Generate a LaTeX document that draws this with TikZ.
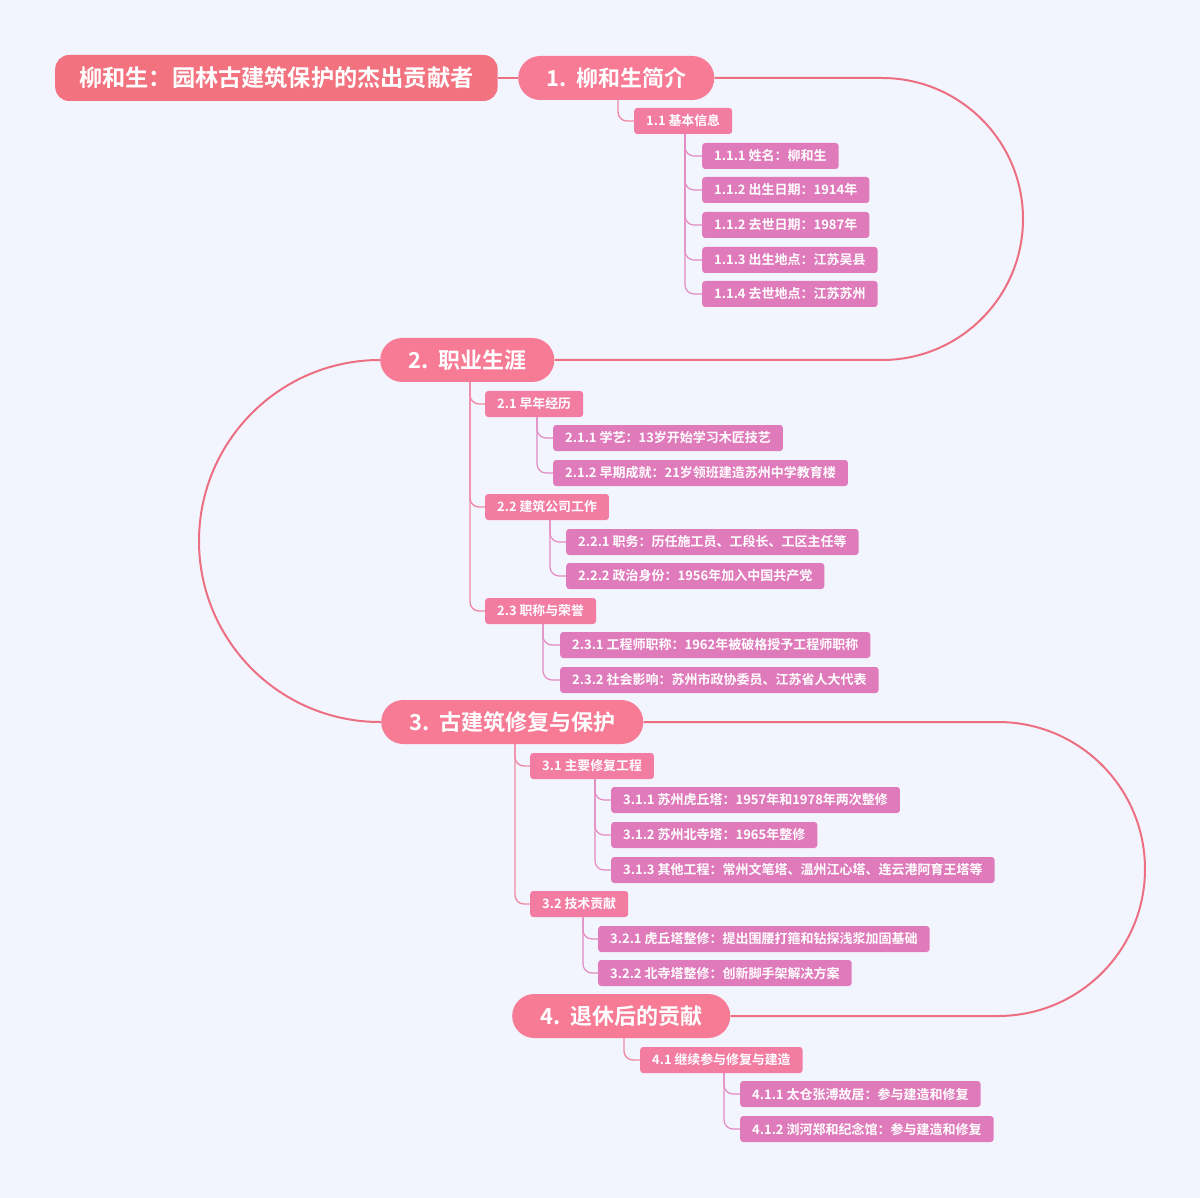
\documentclass[tikz,border=0pt]{standalone}
\usepackage{fontspec}
\newfontfamily\cjk{Noto Sans CJK SC Bold}
\begin{document}
\begin{tikzpicture}[x=1pt,y=-1pt,
  every node/.style={font=\cjk,text=white,anchor=west,inner sep=0pt},
  root/.style={fill=rootc,rounded corners=14pt,minimum height=46pt,inner xsep=24pt,font=\cjk\fontsize{23.2}{23.2}\selectfont},
  lone/.style={fill=lonec,rounded corners=22pt,minimum height=44pt,inner xsep=28pt,font=\cjk\fontsize{22}{22}\selectfont},
  ltwo/.style={fill=ltwoc,rounded corners=3pt,minimum height=26pt,inner xsep=12pt,font=\cjk\fontsize{12.9}{12.9}\selectfont},
  lthree/.style={fill=lthreec,rounded corners=3pt,minimum height=26pt,inner xsep=12pt,font=\cjk\fontsize{13}{13}\selectfont},
  mainc/.style={draw=linec,line width=2pt},
  ctwo/.style={draw=ctwoc,line width=1.4pt,rounded corners=9pt},
  cthree/.style={draw=cthreec,line width=1.2pt,rounded corners=9pt}]
\definecolor{bg}{HTML}{F3F5FE}
\definecolor{rootc}{HTML}{F2737F}
\definecolor{lonec}{HTML}{F77B94}
\definecolor{ltwoc}{HTML}{F27CA2}
\definecolor{lthreec}{HTML}{E07BBB}
\definecolor{linec}{HTML}{EC6F82}
\definecolor{ctwoc}{HTML}{F08AA6}
\definecolor{cthreec}{HTML}{E38BC2}
\fill[bg] (0,0) rectangle (1200,1198);
\useasboundingbox (0,0) rectangle (1200,1198);

\node[root] (r) at (55,78) {柳和生：园林古建筑保护的杰出贡献者};
\node[lone] (n1) at (518,78) {1.\ \ 柳和生简介};
\node[lone] (n2) at (380,360) {2.\ \ 职业生涯};
\node[lone] (n3) at (381,722) {3.\ \ 古建筑修复与保护};
\node[lone] (n4) at (512,1016) {4.\ \ 退休后的贡献};

\draw[mainc] (r.east) -- (n1.west);
\draw[mainc] (n1.east) -- (882,78) arc(-90:90:141) -- (n2.east);
\draw[mainc] (n2.west) -- (380,360) arc(-90:-270:181) -- (n3.west);
\draw[mainc] (n3.east) -- (998,722) arc(-90:90:147) -- (n4.east);

\node[ltwo] (a1) at (634,121) {1.1 基本信息};
\node[lthree] (a11) at (702,156) {1.1.1 姓名：柳和生};
\node[lthree] (a12) at (702,190) {1.1.2 出生日期：1914年};
\node[lthree] (a13) at (702,225) {1.1.2 去世日期：1987年};
\node[lthree] (a14) at (702,260) {1.1.3 出生地点：江苏吴县};
\node[lthree] (a15) at (702,294) {1.1.4 去世地点：江苏苏州};

\node[ltwo] (b1) at (485,404) {2.1 早年经历};
\node[lthree] (b11) at (553,438) {2.1.1 学艺：13岁开始学习木匠技艺};
\node[lthree] (b12) at (553,473) {2.1.2 早期成就：21岁领班建造苏州中学教育楼};
\node[ltwo] (b2) at (485,507) {2.2 建筑公司工作};
\node[lthree] (b21) at (566,542) {2.2.1 职务：历任施工员、工段长、工区主任等};
\node[lthree] (b22) at (566,576) {2.2.2 政治身份：1956年加入中国共产党};
\node[ltwo] (b3) at (485,611) {2.3 职称与荣誉};
\node[lthree] (b31) at (560,645) {2.3.1 工程师职称：1962年被破格授予工程师职称};
\node[lthree] (b32) at (560,680) {2.3.2 社会影响：苏州市政协委员、江苏省人大代表};

\node[ltwo] (c1) at (530,766) {3.1 主要修复工程};
\node[lthree] (c11) at (611,800) {3.1.1 苏州虎丘塔：1957年和1978年两次整修};
\node[lthree] (c12) at (611,835) {3.1.2 苏州北寺塔：1965年整修};
\node[lthree] (c13) at (611,870) {3.1.3 其他工程：常州文笔塔、温州江心塔、连云港阿育王塔等};
\node[ltwo] (c2) at (530,904) {3.2 技术贡献};
\node[lthree] (c21) at (598,939) {3.2.1 虎丘塔整修：提出围腰打箍和钻探浅浆加固基础};
\node[lthree] (c22) at (598,973) {3.2.2 北寺塔整修：创新脚手架解决方案};

\node[ltwo] (d1) at (640,1060) {4.1 继续参与修复与建造};
\node[lthree] (d11) at (740,1094) {4.1.1 太仓张溥故居：参与建造和修复};
\node[lthree] (d12) at (740,1129) {4.1.2 浏河郑和纪念馆：参与建造和修复};

\draw[ctwo] ([xshift=100pt]n1.south west) |- (a1.west);
\foreach \c in {a11,a12,a13,a14,a15}{\draw[cthree] ([xshift=51pt]a1.south west) |- (\c.west);}
\foreach \c in {b1,b2,b3}{\draw[ctwo] ([xshift=90pt]n2.south west) |- (\c.west);}
\foreach \c in {b11,b12}{\draw[cthree] ([xshift=52pt]b1.south west) |- (\c.west);}
\foreach \c in {b21,b22}{\draw[cthree] ([xshift=65pt]b2.south west) |- (\c.west);}
\foreach \c in {b31,b32}{\draw[cthree] ([xshift=58pt]b3.south west) |- (\c.west);}
\foreach \c in {c1,c2}{\draw[ctwo] ([xshift=134pt]n3.south west) |- (\c.west);}
\foreach \c in {c11,c12,c13}{\draw[cthree] ([xshift=65pt]c1.south west) |- (\c.west);}
\foreach \c in {c21,c22}{\draw[cthree] ([xshift=53pt]c2.south west) |- (\c.west);}
\draw[ctwo] ([xshift=112pt]n4.south west) |- (d1.west);
\foreach \c in {d11,d12}{\draw[cthree] ([xshift=84pt]d1.south west) |- (\c.west);}
\end{tikzpicture}
\end{document}
